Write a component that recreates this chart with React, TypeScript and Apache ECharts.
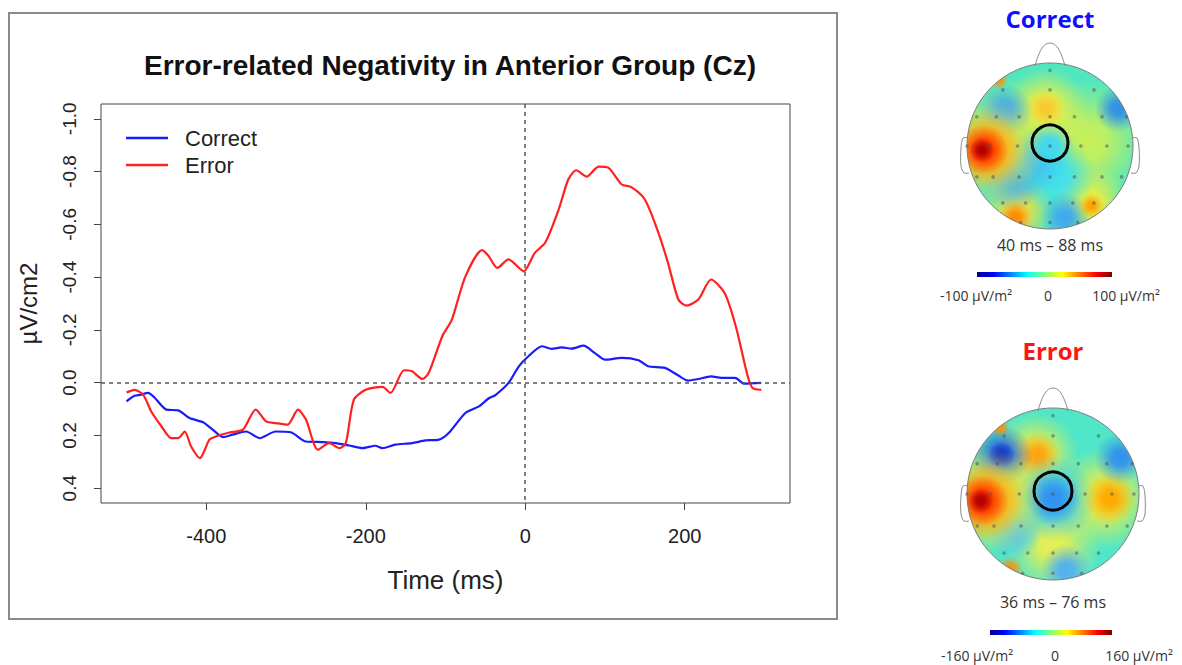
import React, { useEffect, useRef } from "react";
import * as echarts from "echarts";

// ---------- data ----------
const xTicks = [-400, -200, 0, 200];
const yTicks = [-1.0, -0.8, -0.6, -0.4, -0.2, 0.0, 0.2, 0.4];

const correctMs = [-500, -490, -483, -473, -465, -450, -435, -421, -404, -392, -379, -367, -350, -333, -313, -294, -275, -254, -238, -221, -204, -188, -179, -163, -142, -125, -108, -96, -75, -58, -46, -37, -21, -8, 4, 21, 33, 46, 58, 73, 87, 100, 121, 142, 154, 175, 192, 204, 217, 233, 246, 263, 275, 296];
const correctVal = [0.071, 0.05, 0.046, 0.039, 0.056, 0.102, 0.105, 0.134, 0.15, 0.178, 0.206, 0.197, 0.185, 0.21, 0.185, 0.188, 0.223, 0.225, 0.229, 0.238, 0.248, 0.239, 0.248, 0.235, 0.229, 0.219, 0.216, 0.191, 0.115, 0.09, 0.06, 0.046, 0.001, -0.062, -0.1, -0.138, -0.128, -0.134, -0.129, -0.14, -0.113, -0.087, -0.094, -0.085, -0.062, -0.056, -0.027, -0.008, -0.014, -0.024, -0.018, -0.018, 0.004, 0.001];

const errorMs = [-500, -490, -479, -469, -456, -444, -435, -427, -419, -408, -396, -388, -371, -354, -338, -325, -313, -298, -285, -275, -260, -246, -233, -225, -215, -200, -179, -169, -152, -142, -129, -121, -104, -92, -75, -54, -46, -35, -21, -2, 12, 25, 42, 54, 64, 77, 92, 104, 121, 133, 150, 167, 179, 192, 202, 217, 233, 250, 264, 279, 285, 296];
const errorVal = [0.037, 0.027, 0.046, 0.109, 0.166, 0.21, 0.21, 0.185, 0.242, 0.286, 0.216, 0.204, 0.189, 0.178, 0.102, 0.147, 0.153, 0.159, 0.102, 0.14, 0.254, 0.229, 0.248, 0.229, 0.065, 0.027, 0.016, 0.039, -0.047, -0.043, -0.014, -0.037, -0.176, -0.239, -0.403, -0.502, -0.48, -0.435, -0.467, -0.422, -0.492, -0.53, -0.657, -0.77, -0.805, -0.781, -0.819, -0.815, -0.751, -0.741, -0.694, -0.568, -0.454, -0.315, -0.292, -0.315, -0.391, -0.34, -0.214, -0.024, 0.02, 0.027];

const seriesNames = ["Correct", "Error"];
const correctRange = "40 ms \u2013 88 ms";
const errorRange = "36 ms \u2013 76 ms";
const correctScale = ["-100 \u00b5V/m\u00b2", "0", "100 \u00b5V/m\u00b2"];
const errorScale = ["-160 \u00b5V/m\u00b2", "0", "160 \u00b5V/m\u00b2"];

// topography blobs: [dx, dy, size, color] in head-radius units
const correctBlobs: [number, number, number, string][] = [
  [-0.55, -0.15, 0.7, "#a8f070"],
  [0.45, -0.05, 0.75, "#c8f058"],
  [0.5, 0.68, 0.45, "#e8f040"],
  [-0.4, 0.78, 0.45, "#f0e040"],
  [-0.05, -0.45, 0.5, "#f0f040"],
  [-0.05, -0.45, 0.22, "#f8c830"],
  [0.1, 0.35, 0.45, "#40e0f0"],
  [-0.55, -0.42, 0.34, "#40a8f0"],
  [-0.45, 0.4, 0.38, "#40b0f0"],
  [-0.18, 0.18, 0.38, "#40c0f0"],
  [0.0, 0.0, 0.3, "#40d8f0"],
  [0.82, -0.45, 0.28, "#3090e8"],
  [0.18, 0.86, 0.3, "#40a8f0"],
  [-0.7, 0.05, 0.62, "#f0e040"],
  [-0.78, 0.05, 0.46, "#ff9800"],
  [-0.8, 0.05, 0.3, "#ff2800"],
  [-0.82, 0.05, 0.15, "#b00000"],
  [-0.42, 0.86, 0.2, "#ff8800"],
  [0.5, 0.72, 0.15, "#ffa000"],
  [-0.62, -0.8, 0.12, "#ff9000"],
];
const errorBlobs: [number, number, number, string][] = [
  [-0.6, -0.05, 0.7, "#c0f060"],
  [0.6, 0.05, 0.6, "#f0f040"],
  [0.66, 0.05, 0.3, "#ffa800"],
  [0.0, 0.6, 0.55, "#e8f050"],
  [-0.2, -0.45, 0.5, "#f0f040"],
  [-0.18, -0.45, 0.26, "#ffa010"],
  [-0.6, -0.45, 0.36, "#2060e8"],
  [-0.6, -0.45, 0.16, "#1030c0"],
  [0.0, 0.05, 0.5, "#40c8f0"],
  [0.0, 0.05, 0.32, "#3090f0"],
  [0.78, -0.42, 0.3, "#3090f0"],
  [-0.45, 0.45, 0.32, "#50c8f0"],
  [0.15, 0.88, 0.3, "#50b0f0"],
  [-0.72, 0.08, 0.62, "#f0e040"],
  [-0.8, 0.08, 0.46, "#ff9000"],
  [-0.82, 0.08, 0.3, "#ff2800"],
  [-0.84, 0.08, 0.15, "#b00000"],
  [-0.5, 0.88, 0.16, "#ff9000"],
  [-0.62, -0.78, 0.12, "#ff9000"],
];
const electrodeRows: [number, number[]][] = [
  [-0.93, [0]],
  [-0.69, [-0.58, 0, 0.54]],
  [-0.36, [-0.9, -0.66, -0.38, 0, 0.3, 0.64, 0.94]],
  [0, [-1.02, -0.74, -0.4, 0, 0.38, 0.7, 0.96]],
  [0.38, [-0.9, -0.7, -0.38, 0, 0.3, 0.64, 0.88]],
  [0.7, [-0.58, -0.3, 0, 0.28, 0.54]],
  [0.94, [-0.36, 0, 0.34]],
];

function rgba(hex: string, a: number) {
  const n = parseInt(hex.slice(1), 16);
  return `rgba(${(n >> 16) & 255},${(n >> 8) & 255},${n & 255},${a})`;
}

const jetStops = [
  { offset: 0, color: "#00008f" },
  { offset: 0.12, color: "#0000ff" },
  { offset: 0.37, color: "#00ffff" },
  { offset: 0.5, color: "#80ff80" },
  { offset: 0.63, color: "#ffff00" },
  { offset: 0.88, color: "#ff0000" },
  { offset: 1, color: "#800000" },
];

const FONT2 = "'Open Sans', 'Noto Sans', sans-serif";

function head(
  cx: number, cy: number, r: number, base: string, blobs: [number, number, number, string][],
  ring: [number, number, number], title: string, titleColor: string, titleY: number,
  range: string, rangeY: number, bar: [number, number, number], scale: string[], scaleX: number[], scaleY: number
) {
  const els: any[] = [];
  els.push({ type: "circle", shape: { cx, cy, r }, style: { fill: base } });
  blobs.forEach(([dx, dy, s, c]) => {
    els.push({
      type: "circle",
      shape: { cx: cx + dx * r, cy: cy + dy * r, r: s * r },
      style: {
        fill: {
          type: "radial", x: 0.5, y: 0.5, r: 0.5,
          colorStops: [
            { offset: 0, color: rgba(c, 1) },
            { offset: 0.3, color: rgba(c, 0.9) },
            { offset: 0.7, color: rgba(c, 0.35) },
            { offset: 1, color: rgba(c, 0) },
          ],
        },
      },
    });
  });
  // mask outside the head
  els.push({ type: "ring", shape: { cx, cy, r: r + 40, r0: r }, style: { fill: "#ffffff" } });
  els.push({ type: "circle", shape: { cx, cy, r }, style: { fill: "none", stroke: "#7a7a7a", lineWidth: 1 } });
  // nose
  els.push({
    type: "polyline",
    shape: { points: [[cx - 15, cy - r + 3], [cx - 8, cy - r - 15], [cx, cy - r - 20], [cx + 8, cy - r - 15], [cx + 15, cy - r + 3]], smooth: 0.4 },
    style: { fill: "none", stroke: "#8a8a8a", lineWidth: 1 },
  });
  // ears
  [-1, 1].forEach((sgn) => {
    const ex = cx + sgn * r;
    els.push({
      type: "polyline",
      shape: { points: [[ex - sgn * 1, cy - 8], [ex + sgn * 4, cy - 8], [ex + sgn * 6, cy + 2], [ex + sgn * 6, cy + 20], [ex + sgn * 3, cy + 27], [ex - sgn * 2, cy + 27]], smooth: 0.3 },
      style: { fill: "none", stroke: "#8a8a8a", lineWidth: 1 },
    });
  });
  electrodeRows.forEach(([dy, xs]) => {
    xs.forEach((dx) => {
      els.push({ type: "circle", shape: { cx: cx + dx * r * 0.98, cy: cy + dy * r * 0.98, r: 1.8 }, style: { fill: "rgba(80,90,90,0.55)" } });
    });
  });
  els.push({ type: "circle", shape: { cx: ring[0], cy: ring[1], r: ring[2] }, style: { fill: "none", stroke: "#000", lineWidth: 3 } });
  els.push({ type: "text", x: cx, y: titleY, style: { text: title, fill: titleColor, fontSize: 24, fontWeight: "bold", fontFamily: FONT2, align: "center", verticalAlign: "middle" } });
  els.push({ type: "text", x: cx, y: rangeY, style: { text: range, fill: "#333", fontSize: 16, fontFamily: FONT2, align: "center", verticalAlign: "middle" } });
  els.push({ type: "rect", shape: { x: bar[0], y: bar[2], width: bar[1] - bar[0], height: 5 }, style: { fill: { type: "linear", x: 0, y: 0, x2: 1, y2: 0, colorStops: jetStops } } });
  scale.forEach((t, i) => {
    els.push({ type: "text", x: scaleX[i], y: scaleY, style: { text: t, fill: "#333", fontSize: 14, fontFamily: FONT2, align: "center", verticalAlign: "middle" } });
  });
  return els;
}

export default function App() {
  const ref = useRef<HTMLDivElement>(null);
  useEffect(() => {
    if (!ref.current) return;
    const chart = echarts.init(ref.current, undefined, { renderer: "svg" });
    const FONT = "'Liberation Sans', Arial, sans-serif";
    const correctData = correctMs.map((t, i) => [t, correctVal[i]]);
    const errorData = errorMs.map((t, i) => [t, errorVal[i]]);
    const graphics: any[] = [
      { type: "rect", shape: { x: 9, y: 13, width: 828, height: 606 }, style: { fill: "none", stroke: "#8a8a8a", lineWidth: 2 } },
      ...head(1050, 146, 83, "#50e6c0", correctBlobs, [1050, 143, 18], "Correct", "#1010ff", 18,
        correctRange, 245, [977, 1112, 272], correctScale, [976, 1048, 1126], 295),
      ...head(1053, 494, 86, "#50e6c8", errorBlobs, [1053, 491, 19], "Error", "#ff1414", 350,
        errorRange, 602, [990, 1112, 630], errorScale, [977, 1055, 1139], 655),
    ];
    chart.setOption({
      animation: false,
      backgroundColor: "#ffffff",
      title: {
        text: "Error-related Negativity in Anterior Group (Cz)",
        left: 445,
        top: 46,
        textAlign: "center",
        textStyle: { fontFamily: FONT, fontSize: 28, fontWeight: "bold", color: "#111" },
      },
      legend: {
        data: seriesNames,
        orient: "vertical",
        left: 121,
        top: 121,
        icon: "rect",
        itemWidth: 42,
        itemHeight: 2.5,
        itemGap: 3,
        textStyle: { fontFamily: FONT, fontSize: 22, color: "#222", padding: [0, 0, 0, 12], lineHeight: 24 },
      },
      grid: { left: 101, top: 104, width: 689, height: 399, show: true, borderColor: "#444", borderWidth: 1, backgroundColor: "transparent" },
      xAxis: {
        type: "value",
        min: -532,
        max: 332,
        name: "Time (ms)",
        nameLocation: "middle",
        nameGap: 64,
        nameTextStyle: { fontFamily: FONT, fontSize: 26, color: "#222" },
        axisLine: { show: false, onZero: false },
        splitLine: { show: false },
        axisTick: { show: true, length: 7, inside: false, customValues: xTicks, lineStyle: { color: "#444" } },
        axisLabel: { customValues: xTicks, fontFamily: FONT, fontSize: 20, color: "#222", margin: 23 },
      },
      yAxis: {
        type: "value",
        inverse: true,
        min: -1.056,
        max: 0.456,
        name: "\u00b5V/cm2",
        nameLocation: "middle",
        nameGap: 61,
        nameTextStyle: { fontFamily: FONT, fontSize: 24, color: "#222" },
        axisLine: { show: false, onZero: false },
        splitLine: { show: false },
        axisTick: { show: true, length: 7, inside: false, customValues: yTicks, lineStyle: { color: "#444" } },
        axisLabel: {
          customValues: yTicks,
          rotate: 90,
          fontFamily: FONT,
          fontSize: 19,
          color: "#222",
          margin: 22,
          formatter: (v: number) => v.toFixed(1),
        },
      },
      series: [
        {
          name: seriesNames[0],
          type: "line",
          data: correctData,
          showSymbol: false,
          smooth: 0.25,
          color: "#1a1aff",
          lineStyle: { width: 2.2, color: "#1a1aff" },
          markLine: {
            silent: true,
            symbol: ["none", "none"],
            label: { show: false },
            lineStyle: { type: [4, 4], color: "#555", width: 1.5 },
            data: [{ xAxis: 0 }, { yAxis: 0 }],
          },
        },
        {
          name: seriesNames[1],
          type: "line",
          data: errorData,
          showSymbol: false,
          smooth: 0.25,
          color: "#ff2020",
          lineStyle: { width: 2.2, color: "#ff2020" },
        },
      ],
      graphic: graphics,
    });
    return () => chart.dispose();
  }, []);
  return <div ref={ref} style={{ position: "fixed", left: 0, top: 0, width: 1182, height: 665 }} />;
}
